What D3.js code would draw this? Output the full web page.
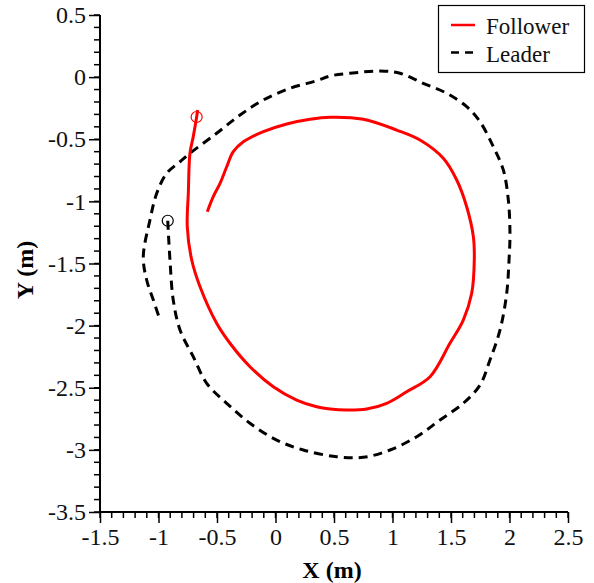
<!DOCTYPE html>
<html><head><meta charset="utf-8">
<script src="https://cdn.jsdelivr.net/npm/d3@7"></script>
<style>body{margin:0;background:#fff}svg{display:block}text{font-family:"Liberation Serif","Times New Roman",serif}</style>
</head><body><svg id="c" width="594" height="583"></svg>
<script>
const followerX = [-0.665,-0.674,-0.703,-0.731,-0.745,-0.754,-0.716,-0.645,-0.503,-0.389,-0.218,-0.019,0.181,0.352,0.466,0.609,0.779,0.950,1.121,1.321,1.491,1.605,1.677,1.699,1.691,1.634,1.549,1.434,1.235,1.036,0.750,0.466,0.295,0.096,-0.104,-0.275,-0.361,-0.417,-0.474,-0.532,-0.583];
const followerY = [-0.265,-0.321,-0.479,-0.611,-0.933,-1.204,-1.472,-1.687,-1.981,-2.142,-2.331,-2.492,-2.599,-2.653,-2.671,-2.679,-2.671,-2.625,-2.532,-2.411,-2.142,-1.955,-1.740,-1.472,-1.284,-1.043,-0.828,-0.653,-0.506,-0.426,-0.339,-0.323,-0.339,-0.377,-0.439,-0.520,-0.600,-0.721,-0.855,-0.962,-1.083];
const leaderX = [-0.921,-0.902,-0.874,-0.816,-0.703,-0.588,-0.417,-0.218,0.010,0.238,0.523,0.750,0.979,1.207,1.406,1.605,1.748,1.833,1.919,1.976,1.996,2.004,1.990,1.947,1.862,1.748,1.634,1.463,1.263,1.064,0.893,0.637,0.466,0.352,0.124,-0.104,-0.303,-0.503,-0.731,-0.816,-0.930,-1.015,-1.073,-1.130,-1.101,-1.044,-0.987];
const leaderY = [-1.156,-1.472,-1.794,-2.035,-2.250,-2.464,-2.625,-2.786,-2.921,-3.001,-3.055,-3.060,-3.001,-2.894,-2.760,-2.625,-2.478,-2.277,-2.035,-1.740,-1.472,-1.257,-0.989,-0.747,-0.560,-0.359,-0.238,-0.130,-0.050,0.031,0.049,0.031,0.009,-0.029,-0.090,-0.184,-0.305,-0.452,-0.613,-0.681,-0.774,-0.935,-1.150,-1.445,-1.633,-1.794,-1.955];
const followerStart = [-0.674,-0.321];
const leaderStart = [-0.921,-1.156];
const xTicks = [-1.5,-1,-0.5,0,0.5,1,1.5,2,2.5];
const yTicks = [0.5,0,-0.5,-1,-1.5,-2,-2.5,-3,-3.5];
const seriesNames = ["Follower","Leader"];
const seriesColors = ["#ff0000","#000000"];

const svg = d3.select("#c");
const L=100,R=568,T=15,B=512;
const FS = 24;
const x = d3.scaleLinear().domain([-1.5,2.5]).range([L,R]);
const y = d3.scaleLinear().domain([-3.5,0.5]).range([B,T]);
const fmt = d=>d3.format("")(d).replace("\u2212","-");

const xMinor = d3.range(-1.5,2.5001,0.1);
const yMinor = d3.range(-3.5,0.5001,0.1);
const gx = svg.append("g").attr("transform",`translate(0,${B})`);
gx.selectAll("line.mn").data(xMinor).join("line").attr("class","mn").attr("x1",d=>x(d)).attr("x2",d=>x(d)).attr("y1",0).attr("y2",6).attr("stroke","#000").attr("stroke-width",1.5);
gx.call(d3.axisBottom(x).tickValues(xTicks).tickSize(11).tickPadding(5).tickFormat(fmt));
const gy = svg.append("g").attr("transform",`translate(${L},0)`);
gy.selectAll("line.mn").data(yMinor).join("line").attr("class","mn").attr("x1",0).attr("x2",-6).attr("y1",d=>y(d)).attr("y2",d=>y(d)).attr("stroke","#000").attr("stroke-width",1.5);
gy.call(d3.axisLeft(y).tickValues(yTicks).tickSize(11).tickPadding(3).tickFormat(fmt));
[gx,gy].forEach(g=>{
  g.attr("font-size",FS).attr("font-family",null);
  g.select(".domain").attr("stroke","#000").attr("stroke-width",2).attr("d", g===gx?`M${L},0H${R}`:`M0,${T}V${B}`);
  g.selectAll(".tick line").attr("stroke","#000").attr("stroke-width",1.5);
  g.selectAll(".tick text").style("font-size",FS+"px").attr("fill","#111");
});

svg.append("text").attr("x",332).attr("y",578).attr("text-anchor","middle").style("font-size",FS+"px").attr("font-weight","bold").text("X (m)");
svg.append("text").attr("transform","translate(33,270) rotate(-90)").attr("text-anchor","middle").style("font-size",FS+"px").attr("font-weight","bold").text("Y (m)");

const line = d3.line().x(d=>x(d[0])).y(d=>y(d[1])).curve(d3.curveCatmullRom);
const leader = leaderX.map((v,i)=>[v,leaderY[i]]);
const follower = followerX.map((v,i)=>[v,followerY[i]]);
svg.append("path").datum(leader).attr("d",line).attr("fill","none").attr("stroke","#000").attr("stroke-width",3).attr("stroke-dasharray","9,6");
svg.append("path").datum(follower).attr("d",line).attr("fill","none").attr("stroke","#ff0000").attr("stroke-width",3);
svg.append("circle").attr("cx",x(followerStart[0])).attr("cy",y(followerStart[1])).attr("r",5.5).attr("fill","none").attr("stroke","#ff0000").attr("stroke-width",1.2);
svg.append("circle").attr("cx",x(leaderStart[0])).attr("cy",y(leaderStart[1])).attr("r",5.5).attr("fill","none").attr("stroke","#000").attr("stroke-width",1.2);

const lg = svg.append("g");
lg.append("rect").attr("x",438.5).attr("y",5.5).attr("width",146).attr("height",67).attr("fill","#fff").attr("stroke","#000").attr("stroke-width",1.2);
seriesNames.forEach((n,i)=>{
  const yy = 25 + i*27.5;
  lg.append("line").attr("x1",451).attr("x2",475).attr("y1",yy).attr("y2",yy).attr("stroke",seriesColors[i]).attr("stroke-width",2.5).attr("stroke-dasharray",i===1?"8,6":null);
  lg.append("text").attr("x",486).attr("y",yy+9).style("font-size","23px").attr("fill","#111").text(n);
});
</script></body></html>
